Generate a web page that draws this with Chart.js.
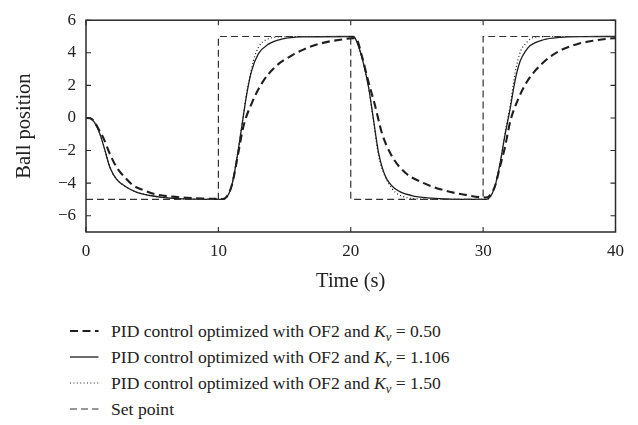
<!DOCTYPE html>
<html>
<head>
<meta charset="utf-8">
<script src="https://cdn.jsdelivr.net/npm/chart.js@4.4.1/dist/chart.umd.min.js"></script>
<style>
  html, body { margin: 0; padding: 0; background: #fff; }
  #wrap { position: relative; width: 638px; height: 425px; overflow: hidden; }
  #c { position: absolute; left: 0; top: 0; }
  #legend { position: absolute; left: 0; top: 317.5px; width: 638px; font-family: "Liberation Serif", "Times New Roman", serif; font-size: 17.6px; color: #222; }
  .row { position: relative; height: 26.3px; line-height: 26.3px; white-space: nowrap; }
  .row svg { position: absolute; left: 70px; top: 11px; }
  .row .txt { position: absolute; left: 111px; top: 0; }
  .row sub { font-size: 0.72em; font-style: italic; vertical-align: -0.3em; line-height: 0; }
</style>
</head>
<body>
<div id="wrap">
  <canvas id="c" width="638" height="300"></canvas>
  <div id="legend"></div>
</div>
<script>
// ---------- data ----------
const xTickValues = [0, 10, 20, 30, 40];
const yTickValues = [-6, -4, -2, 0, 2, 4, 6];

// Set point
const tSet = [0, 10, 10, 20, 20, 30, 30, 40];
const ySet = [-5, -5, 5, 5, -5, -5, 5, 5];

// PID, Kv = 0.50 (thick dashed)
const tK050 = [0, 0.3, 0.6, 1.0, 1.31, 1.8, 2.32, 3.0, 3.58, 4.4, 5.34, 6.5, 7.6, 8.8, 10.3,
  10.5, 11.01, 11.51, 11.89, 12.52, 13.27, 14.27, 15.53, 16.8, 18.07, 19.2, 20.2,
  20.4, 20.84, 21.34, 21.84, 22.35, 23.1, 24.1, 25.37, 27.1, 28.5, 30.2,
  30.4, 30.89, 31.3, 31.64, 32.05, 32.67, 33.3, 34.56, 35.8, 37.1, 38.3, 39.6, 40];
const yK050 = [0, -0.02, -0.2, -0.75, -1.22, -2.2, -3.04, -3.7, -4.15, -4.45, -4.7, -4.83, -4.9, -4.95, -4.97,
  -4.93, -4.15, -2.13, -0.52, 0.9, 2.11, 3.12, 3.83, 4.33, 4.64, 4.8, 4.9,
  4.88, 3.8, 2.2, 0.75, -0.92, -2.33, -3.35, -3.95, -4.45, -4.7, -4.88,
  -4.84, -4.2, -2.9, -1.83, -0.21, 1.2, 2.21, 3.42, 4.13, 4.53, 4.74, 4.88, 4.9];

// PID, Kv = 1.106 (solid)
const tK1106 = [0, 0.3, 0.6, 1.06, 1.4, 1.81, 2.3, 3.07, 3.8, 4.84, 5.6, 6.6, 8, 10.3,
  10.5, 11.01, 11.39, 11.77, 12.15, 12.52, 13.02, 13.78, 14.79, 16.3, 20.2,
  20.33, 20.84, 21.34, 21.72, 22.1, 22.6, 23.36, 24.6, 26.1, 27.5, 30.2,
  30.4, 30.89, 31.3, 31.64, 32.05, 32.3, 32.55, 32.8, 33.2, 33.56, 34.56, 35.8, 37.5, 40];
const yK1106 = [0, -0.02, -0.22, -1.0, -1.9, -3.04, -3.75, -4.25, -4.55, -4.76, -4.86, -4.94, -4.98, -5.0,
  -4.96, -4.15, -2.53, -0.52, 1.5, 2.92, 3.93, 4.53, 4.84, 4.98, 5.0,
  4.9, 3.73, 1.91, -0.11, -2.13, -3.55, -4.35, -4.76, -4.92, -4.98, -5.0,
  -4.96, -4.2, -2.7, -1.1, 0.6, 1.8, 2.8, 3.5, 4.1, 4.44, 4.8, 4.94, 4.99, 5.0];

// PID, Kv = 1.50 (dotted) - hidden under the solid curve in the first interval
const tK150 = [0, 0.3, 0.6, 1.06, 1.4, 1.81, 2.3, 3.07, 3.8, 4.84, 5.6, 6.6, 8, 10.3,
  10.5, 11.01, 11.39, 11.77, 12.15, 12.4, 12.65, 13.02, 13.4, 13.78, 14.5, 16, 20.2,
  20.33, 20.84, 21.34, 21.72, 22.1, 22.5, 22.85, 23.36, 24.1, 25, 26.5, 30.2,
  30.4, 30.89, 31.3, 31.64, 32.05, 32.43, 32.8, 33.3, 33.8, 35, 40];
const yK150 = [0, -0.02, -0.22, -1.0, -1.9, -3.04, -3.75, -4.25, -4.55, -4.76, -4.86, -4.94, -4.98, -5.0,
  -4.96, -4.15, -2.5, -0.45, 1.6, 2.6, 3.53, 4.33, 4.7, 4.86, 4.97, 5.0, 5.0,
  4.9, 3.7, 1.9, -0.2, -2.3, -3.4, -4.0, -4.56, -4.86, -4.96, -5.0, -5.0,
  -4.96, -4.2, -2.7, -1.0, 0.8, 2.82, 4.03, 4.64, 4.94, 5.0, 5.0];

const legendLabels = [
  'PID control optimized with OF2 and <i>K</i><sub>ν</sub> = 0.50',
  'PID control optimized with OF2 and <i>K</i><sub>ν</sub> = 1.106',
  'PID control optimized with OF2 and <i>K</i><sub>ν</sub> = 1.50',
  'Set point'
];

// ---------- build ----------
const pts = (t, y) => t.map((v, i) => ({ x: v, y: y[i] }));
const FONT = '"Liberation Serif", "Times New Roman", serif';
const INK = '#1e1e1e';

const styles = [
  { borderColor: INK, borderWidth: 2.1, borderDash: [8, 4.5] },
  { borderColor: INK, borderWidth: 1.3, borderDash: [] },
  { borderColor: INK, borderWidth: 1.2, borderDash: [1, 2.4] },
  { borderColor: '#333', borderWidth: 1.2, borderDash: [7, 4] }
];

const datasets = [
  Object.assign({ data: pts(tSet, ySet), tension: 0 }, styles[3]),
  Object.assign({ data: pts(tK050, yK050), cubicInterpolationMode: 'monotone' }, styles[0]),
  Object.assign({ data: pts(tK150, yK150), cubicInterpolationMode: 'monotone' }, styles[2]),
  Object.assign({ data: pts(tK1106, yK1106), cubicInterpolationMode: 'monotone' }, styles[1])
].map(d => Object.assign({ showLine: true, pointRadius: 0, fill: false }, d));

const fmt = v => (v < 0 ? '\u2212' + Math.abs(v) : String(v));

const frameTicks = {
  id: 'frameTicks',
  afterDatasetsDraw(chart) {
    const { ctx, chartArea: a, scales } = chart;
    const L = 5;
    ctx.save();
    ctx.strokeStyle = '#2a2a2a';
    ctx.lineWidth = 1.1;
    ctx.setLineDash([]);
    ctx.beginPath();
    xTickValues.forEach(v => {
      const px = scales.x.getPixelForValue(v);
      ctx.moveTo(px, a.bottom); ctx.lineTo(px, a.bottom - L);
      ctx.moveTo(px, a.top); ctx.lineTo(px, a.top + L);
    });
    yTickValues.forEach(v => {
      const py = scales.y.getPixelForValue(v);
      ctx.moveTo(a.left, py); ctx.lineTo(a.left + L, py);
      ctx.moveTo(a.right, py); ctx.lineTo(a.right - L, py);
    });
    ctx.stroke();
    ctx.lineWidth = 1.5;
    ctx.strokeRect(a.left, a.top, a.right - a.left, a.bottom - a.top);
    ctx.restore();
  }
};

new Chart(document.getElementById('c'), {
  type: 'scatter',
  data: { datasets },
  options: {
    responsive: false,
    animation: false,
    layout: { padding: { top: 17.5, right: 22.5, left: 0, bottom: 0 } },
    plugins: { legend: { display: false }, tooltip: { enabled: false } },
    scales: {
      x: {
        type: 'linear', min: 0, max: 40,
        afterBuildTicks: s => { s.ticks = xTickValues.map(v => ({ value: v })); },
        afterFit: s => { s.height = 68; },
        grid: { display: false, drawTicks: false },
        border: { display: false },
        ticks: { color: '#222', padding: 9, font: { family: FONT, size: 17 }, callback: v => fmt(v) },
        title: { display: true, text: 'Time (s)', color: '#222', font: { family: FONT, size: 20.5 }, padding: { top: 0, bottom: 6 } }
      },
      y: {
        type: 'linear', min: -7, max: 6,
        afterBuildTicks: s => { s.ticks = yTickValues.map(v => ({ value: v })); },
        afterFit: s => { s.width = 86; },
        grid: { display: false, drawTicks: false },
        border: { display: false },
        ticks: { color: '#222', padding: 10, font: { family: FONT, size: 17 }, callback: v => fmt(v) },
        title: { display: true, text: 'Ball position', color: '#222', font: { family: FONT, size: 20.5 }, padding: { top: 12, bottom: 0 } }
      }
    }
  },
  plugins: [frameTicks]
});

// ---------- HTML legend ----------
const legendOrder = [0, 1, 2, 3];
const legendEl = document.getElementById('legend');
legendOrder.forEach(i => {
  const s = styles[i];
  const row = document.createElement('div');
  row.className = 'row';
  const dash = s.borderDash.length ? s.borderDash.join(' ') : 'none';
  row.innerHTML =
    '<svg width="30" height="4" viewBox="0 0 30 4"><line x1="0" y1="2" x2="28.5" y2="2" stroke="' + s.borderColor +
    '" stroke-width="' + s.borderWidth + '" stroke-dasharray="' + dash + '"/></svg>' +
    '<span class="txt">' + legendLabels[i] + '</span>';
  legendEl.appendChild(row);
});
</script>
</body>
</html>
